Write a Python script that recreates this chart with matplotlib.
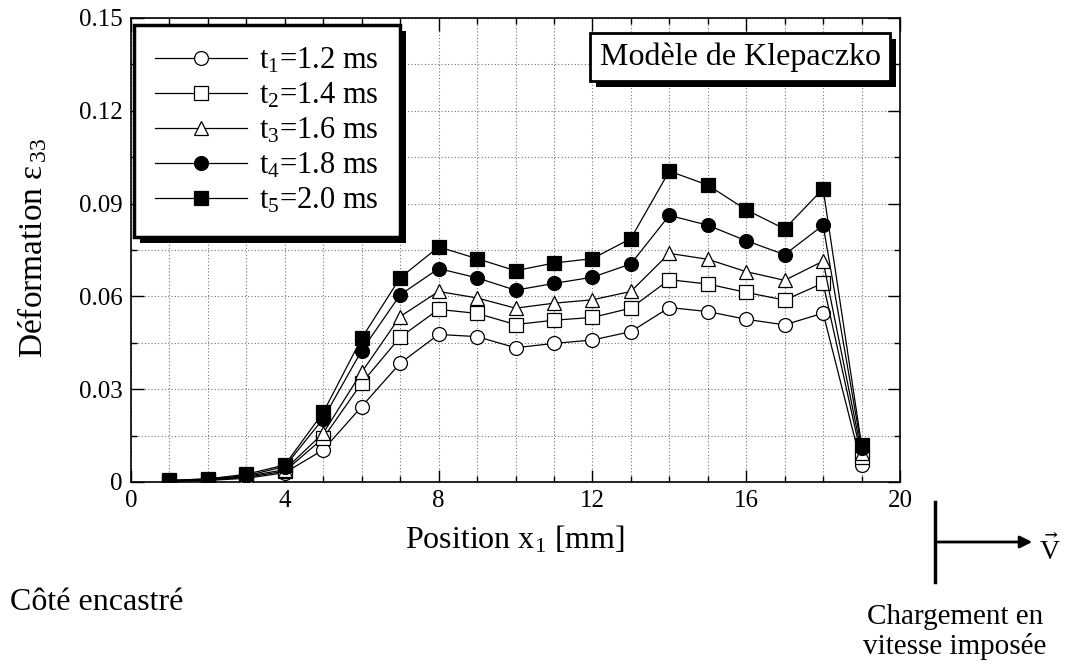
import matplotlib
matplotlib.use("Agg")
import matplotlib.pyplot as plt
from matplotlib.patches import Rectangle, FancyArrowPatch
from matplotlib.lines import Line2D
from matplotlib.ticker import MultipleLocator

plt.rcParams['font.family'] = ['Liberation Serif', 'DejaVu Serif']
plt.rcParams['mathtext.fontset'] = 'custom'
plt.rcParams['mathtext.rm'] = 'Liberation Serif'
plt.rcParams['mathtext.it'] = 'Liberation Serif:italic'
plt.rcParams['mathtext.fallback'] = 'stix'

# position along the bar (mm)
x = [1, 2, 3, 4, 5, 6, 7, 8, 9, 10, 11, 12, 13, 14, 15, 16, 17, 18, 19]

# strain eps_33 at the five instants
t1 = [0.0002, 0.0005, 0.0012, 0.0030, 0.0104, 0.0244, 0.0384, 0.0477, 0.0470, 0.0434,
      0.0448, 0.0459, 0.0486, 0.0564, 0.0551, 0.0526, 0.0508, 0.0546, 0.0055]
t2 = [0.0003, 0.0007, 0.0015, 0.0035, 0.0142, 0.0320, 0.0468, 0.0558, 0.0545, 0.0509,
      0.0523, 0.0532, 0.0562, 0.0654, 0.0640, 0.0613, 0.0588, 0.0643, 0.0080]
t3 = [0.0004, 0.0008, 0.0018, 0.0040, 0.0158, 0.0355, 0.0535, 0.0616, 0.0595, 0.0562,
      0.0578, 0.0589, 0.0616, 0.0739, 0.0720, 0.0680, 0.0652, 0.0714, 0.0095]
t4 = [0.0005, 0.0010, 0.0020, 0.0050, 0.0205, 0.0425, 0.0605, 0.0690, 0.0660, 0.0620,
      0.0642, 0.0662, 0.0705, 0.0862, 0.0830, 0.0780, 0.0735, 0.0830, 0.0110]
t5 = [0.0005, 0.0010, 0.0025, 0.0055, 0.0225, 0.0465, 0.0660, 0.0760, 0.0722, 0.0683,
      0.0708, 0.0722, 0.0787, 0.1005, 0.0960, 0.0880, 0.0818, 0.0948, 0.0120]

labels = [r"$\mathrm{t}_1$=1.2 ms", r"$\mathrm{t}_2$=1.4 ms", r"$\mathrm{t}_3$=1.6 ms",
          r"$\mathrm{t}_4$=1.8 ms", r"$\mathrm{t}_5$=2.0 ms"]
xticks = [0, 4, 8, 12, 16, 20]
xtick_labels = ['0', '4', '8', '12', '16', '20']
yticks = [0, 0.03, 0.06, 0.09, 0.12, 0.15]
ytick_labels = ['0', '0.03', '0.06', '0.09', '0.12', '0.15']

W, H = 1079, 665
fig = plt.figure(figsize=(W / 100, H / 100), dpi=100)


def fx(px):
    return px / W


def fy(py):
    return 1 - py / H


ax = fig.add_axes([fx(131), fy(482), fx(900 - 131), (482 - 18) / H])

series = [t1, t2, t3, t4, t5]
markers = ['o', 's', '^', 'o', 's']
faces = ['white', 'white', 'white', 'black', 'black']
for ys, m, fc, lab in zip(series, markers, faces, labels):
    ax.plot(x, ys, color='black', lw=0.9, marker=m, markersize=10,
            markerfacecolor=fc, markeredgecolor='black', markeredgewidth=0.9,
            label=lab, zorder=3)

ax.set_xlim(0, 20)
ax.set_ylim(0, 0.15)
ax.set_xticks(xticks)
ax.set_xticklabels(xtick_labels)
ax.set_yticks(yticks)
ax.set_yticklabels(ytick_labels)
ax.xaxis.set_minor_locator(MultipleLocator(1))
ax.yaxis.set_minor_locator(MultipleLocator(0.015))
ax.tick_params(which='both', direction='in', top=True, right=True, labelsize=18, width=1)
ax.tick_params(which='major', length=9, pad=6)
ax.tick_params(which='minor', length=4)
ax.grid(which='both', linestyle=(0, (1, 2)), color='0.45', lw=0.8)
for s in ax.spines.values():
    s.set_linewidth(1.2)

leg = ax.legend(loc='upper left', bbox_to_anchor=(fx(134), fy(25)),
                bbox_transform=fig.transFigure, fontsize=22, handlelength=3.0,
                handletextpad=0.4, labelspacing=0.18, borderpad=0.7, borderaxespad=0,
                fancybox=False, framealpha=1, edgecolor='black')
leg.get_frame().set_linewidth(2.5)
leg.set_zorder(6)

# title box
ax.text(fx(740), fy(57), "Modèle de Klepaczko", transform=fig.transFigure,
        ha='center', va='center', fontsize=23, zorder=8,
        bbox=dict(boxstyle='square,pad=0.3', facecolor='white', edgecolor='black', lw=2))

fig.canvas.draw()
rend = fig.canvas.get_renderer()
# black drop shadows under the legend and the title box
for art in (leg, ax.texts[0].get_bbox_patch()):
    bb = art.get_window_extent(rend)
    sh = Rectangle((bb.x0 + 6, bb.y0 - 6), bb.width, bb.height, transform=None,
                   facecolor='black', edgecolor='none', zorder=5, clip_on=False)
    ax.add_artist(sh)

fig.text(fx(32), fy(248), r"Déformation $\mathrm{ε}_{\,33}$", rotation=90,
         ha='center', va='center', fontsize=24)
fig.text(fx(515), fy(540), r"Position $\mathrm{x}_1$ [mm]", ha='center', va='center',
         fontsize=23)
fig.text(fx(10), fy(603), "Côté encastré", ha='left', va='center', fontsize=23)
fig.text(fx(955), fy(632), "Chargement en\nvitesse imposée", ha='center', va='center',
         fontsize=21, linespacing=1.12)

# loading sketch: wall and velocity arrow
fig.add_artist(Line2D([fx(935), fx(935)], [fy(502), fy(582)], color='black', lw=2.5))
fig.add_artist(FancyArrowPatch(
    (fx(935), fy(542)), (fx(1035), fy(542)), transform=fig.transFigure,
    arrowstyle='-|>', mutation_scale=18, color='black', lw=2))
fig.text(fx(1050), fy(550), r"$\vec{\mathrm{V}}$", ha='center', va='center', fontsize=20)

fig.savefig('out.png', dpi=100)
